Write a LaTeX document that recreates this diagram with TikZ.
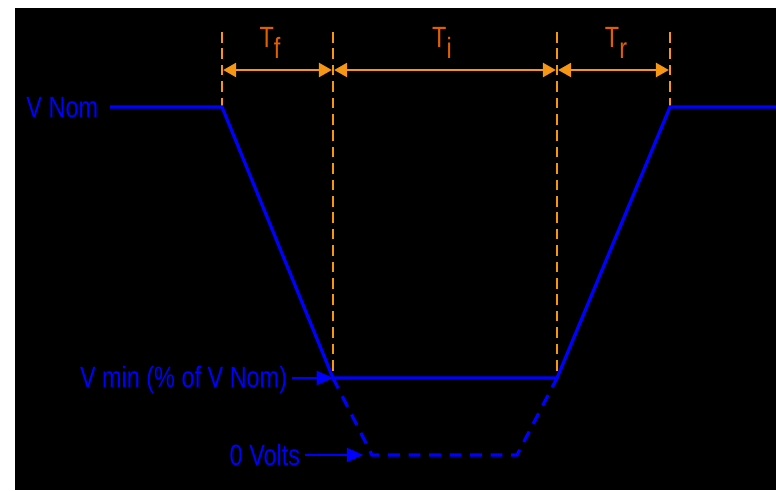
\documentclass[tikz,border=0pt]{standalone}
\usepackage{fontspec}
\setmainfont{Liberation Sans}
\usetikzlibrary{arrows.meta, positioning}
\definecolor{railblue}{RGB}{0,0,255}
\definecolor{spanorange}{RGB}{245,150,20}
\definecolor{spanname}{RGB}{225,95,0}
\newcommand{\slim}[1]{\scalebox{0.8}[1]{#1}}
\newcommand{\lowsub}[1]{\raisebox{-10pt}{#1}}
\tikzset{
    wave/.style         = {draw = railblue, line width = 2.7pt, line join = miter},
    dropout/.style      = {wave, dash pattern = on 10pt off 7.5pt},
    guide/.style        = {draw = spanorange, line width = 1.4pt, dash pattern = on 9pt off 5pt},
    span arrow/.style   = {draw = spanorange, line width = 1.8pt, {Triangle[length=11pt,width=12pt]}-{Triangle[length=11pt,width=12pt]}, shorten <= 1pt, shorten >= 1pt},
    span label/.style   = {text = spanname, font = \fontsize{25}{25}\selectfont, anchor = base, inner sep = 0pt},
    level label/.style  = {text = railblue, font = \fontsize{25}{25}\selectfont, anchor = base east, inner xsep = 4pt, inner ysep = 0pt},
    pointer/.style      = {draw = railblue, line width = 1.8pt, -{Triangle[length=14pt,width=12pt]}}
}

\begin{document}
\begin{tikzpicture}[x=0.03cm, y=0.03cm]
		\useasboundingbox (0,0) rectangle (776,490);
		\fill[white] (0,0) rectangle (776,490);
		\fill[black] (15,0) rectangle (776,482);

		\coordinate (nomL) at (110,383);
		\coordinate (fallTop) at (222,383);
		\coordinate (minL) at (333,112);
		\coordinate (minR) at (557,112);
		\coordinate (riseTop) at (670,383);
		\coordinate (nomR) at (776,383);
		\coordinate (zeroL) at (372,35);
		\coordinate (zeroR) at (517,35);
		\coordinate (guideTop) at (0,458);
		\coordinate (spanLevel) at (0,420);

		\draw[guide] (fallTop |- guideTop) -- (fallTop);
		\draw[guide] (minL |- guideTop) -- (minL);
		\draw[guide] (minR |- guideTop) -- (minR);
		\draw[guide] (riseTop |- guideTop) -- (riseTop);

		\draw[span arrow] (fallTop |- spanLevel) -- (minL |- spanLevel);
		\draw[span arrow] (minL |- spanLevel) -- (minR |- spanLevel);
		\draw[span arrow] (minR |- spanLevel) -- (riseTop |- spanLevel);

		\node[span label] (fallname) at (270,443) {\slim{T\lowsub{f}}};
		\node[span label] (holdname) at (442,443) {\slim{T\lowsub{i}}};
		\node[span label] (risename) at (616,443) {\slim{T\lowsub{r}}};

		\draw[dropout] (minL) -- (zeroL) -- (zeroR) -- (minR);
		\draw[wave] (nomL) -- (fallTop) -- (minL) -- (minR) -- (riseTop) -- (nomR);

		\node[level label] (nomlabel) at (103,373) {\slim{V Nom}};
		\node[level label] (minlabel) at (292,103) {\slim{V min (\% of V Nom)}};
		\node[level label] (zerolabel) at (305,25) {\slim{0 Volts}};

		\draw[pointer] (minlabel.east |- minL) -- (minL);
		\draw[pointer, shorten >= 7.5pt] (zerolabel.east |- zeroL) -- (zeroL);
\end{tikzpicture}
\end{document}
